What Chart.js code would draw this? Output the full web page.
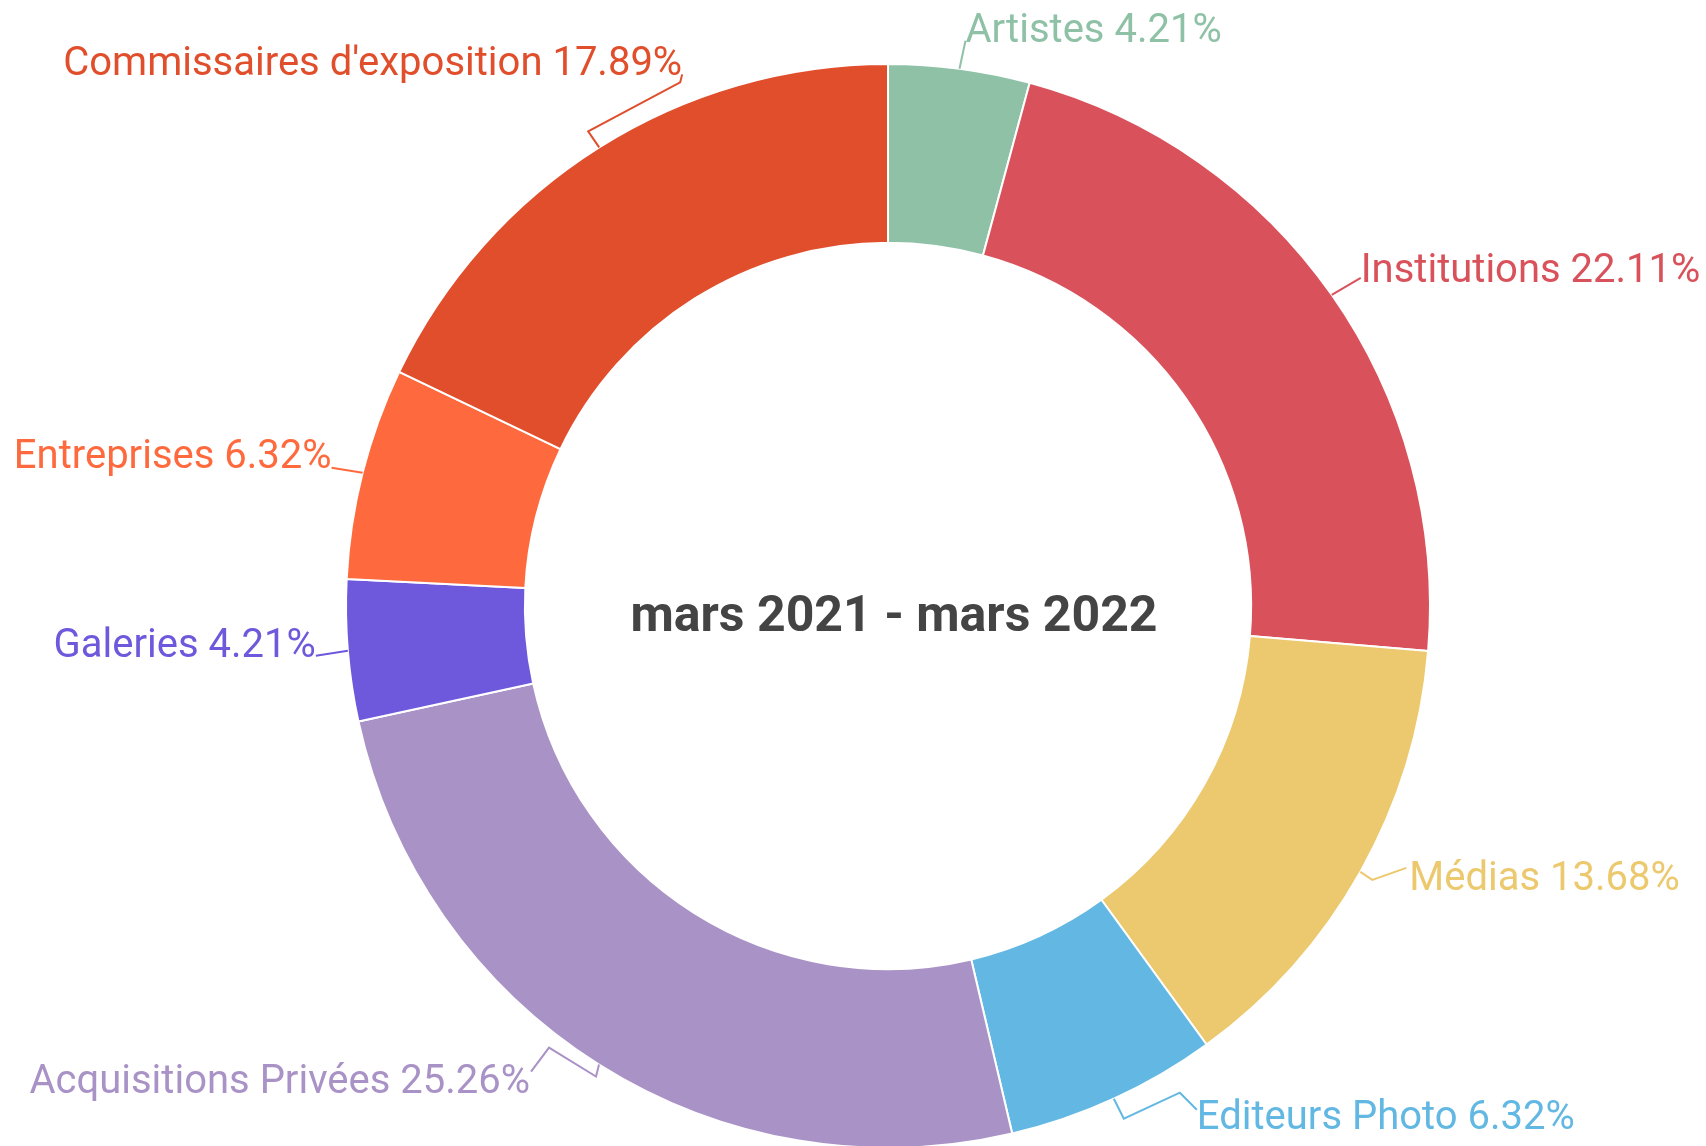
<!DOCTYPE html>
<html lang="fr">
<head>
<meta charset="utf-8">
<title>Répartition mars 2021 - mars 2022</title>
<script src="https://cdn.jsdelivr.net/npm/chart.js@4"></script>
<style>
  html, body { margin: 0; padding: 0; background: #ffffff; overflow: hidden; }
  #wrap { position: relative; width: 1706px; height: 1150px; }
</style>
</head>
<body>
<div id="wrap"><canvas id="donut"></canvas></div>
<script>
// ── Données ─────────────────────────────────────────
const categories = [
  'Artistes',
  'Institutions',
  'Médias',
  'Editeurs Photo',
  'Acquisitions Privées',
  'Galeries',
  'Entreprises',
  "Commissaires d'exposition",
];
const shares = [4.21, 22.11, 13.68, 6.32, 25.26, 4.21, 6.32, 17.89];
const centerTitle = 'mars 2021 - mars 2022';

const COLORS = [
  '#8fc1a6', // Artistes
  '#d9525b', // Institutions
  '#ecc96e', // Médias
  '#63b8e3', // Editeurs Photo
  '#a992c6', // Acquisitions Privées
  '#6e58dc', // Galeries
  '#fe6a3e', // Entreprises
  '#e04e2c', // Commissaires
];

// placement des étiquettes, relatif au point du bord extérieur (milieu de l'arc)
// text: [dx, dy] du bord du texte ; leader: points de la ligne de rappel
const LABEL_LAYOUT = [
  { text: [6, -37],  leader: [[0, 0], [6, -28]] },
  { text: [29, -23], leader: [[0, 0], [29, -17]] },
  { text: [49, 8],   leader: [[0, 0], [12, 8], [46, -4]] },
  { text: [83, 20],  leader: [[0, 0], [10, 20], [66, -6], [83, 11]] },
  { text: [-69, 18], leader: [[0, 0], [-3, 12], [-50, -17], [-68, 7]] },
  { text: [-32, -4], leader: [[0, 0], [-32, 5]] },
  { text: [-31, -15], leader: [[0, 0], [-31, -5]] },
  { text: [83, -82], leader: [[0, 0], [-11, -16], [81, -65], [83, -73]] },
];

// ── Étiquettes + lignes de rappel ───────────────────
const outsideLabels = {
  id: 'outsideLabels',
  afterDatasetsDraw(chart) {
    const ctx  = chart.ctx;
    const meta = chart.getDatasetMeta(0);
    ctx.save();
    ctx.font = '40px Roboto';
    ctx.textBaseline = 'middle';
    meta.data.forEach((arc, i) => {
      const p   = arc.getProps(['x', 'y', 'startAngle', 'endAngle', 'outerRadius'], true);
      const mid = (p.startAngle + p.endAngle) / 2;
      const ax  = p.x + Math.cos(mid) * p.outerRadius;
      const ay  = p.y + Math.sin(mid) * p.outerRadius;
      const lay = LABEL_LAYOUT[i];
      const color = COLORS[i];

      ctx.strokeStyle = color;
      ctx.lineWidth = 2;
      ctx.beginPath();
      lay.leader.forEach(([dx, dy], k) => {
        if (k === 0) ctx.moveTo(ax + dx, ay + dy);
        else ctx.lineTo(ax + dx, ay + dy);
      });
      ctx.stroke();

      const rightSide = Math.cos(mid) >= 0;
      ctx.textAlign = rightSide ? 'left' : 'right';
      ctx.fillStyle = color;
      ctx.fillText(`${categories[i]} ${shares[i].toFixed(2)}%`, ax + lay.text[0], ay + lay.text[1]);
    });
    ctx.restore();
  },
};

// ── Titre au centre ─────────────────────────────────
const centerText = {
  id: 'centerText',
  afterDraw(chart) {
    const arc = chart.getDatasetMeta(0).data[0];
    if (!arc) return;
    const { x, y } = arc.getProps(['x', 'y'], true);
    const ctx = chart.ctx;
    ctx.save();
    ctx.font = 'bold 50px Roboto';
    ctx.fillStyle = '#444444';
    ctx.textAlign = 'center';
    ctx.textBaseline = 'alphabetic';
    ctx.fillText(centerTitle, x + 6, y + 25);
    ctx.restore();
  },
};

new Chart(document.getElementById('donut').getContext('2d'), {
  type: 'doughnut',
  data: {
    labels: categories,
    datasets: [{
      data: shares,
      backgroundColor: COLORS,
      borderColor: '#ffffff',
      borderWidth: 2,
      hoverOffset: 0,
    }],
  },
  options: {
    responsive: true,
    maintainAspectRatio: false,
    animation: false,
    cutout: '67%',
    layout: { padding: { top: 63, bottom: 1, left: 345, right: 275 } },
    plugins: {
      legend:  { display: false },
      tooltip: { enabled: false },
    },
  },
  plugins: [outsideLabels, centerText],
});
</script>
</body>
</html>
